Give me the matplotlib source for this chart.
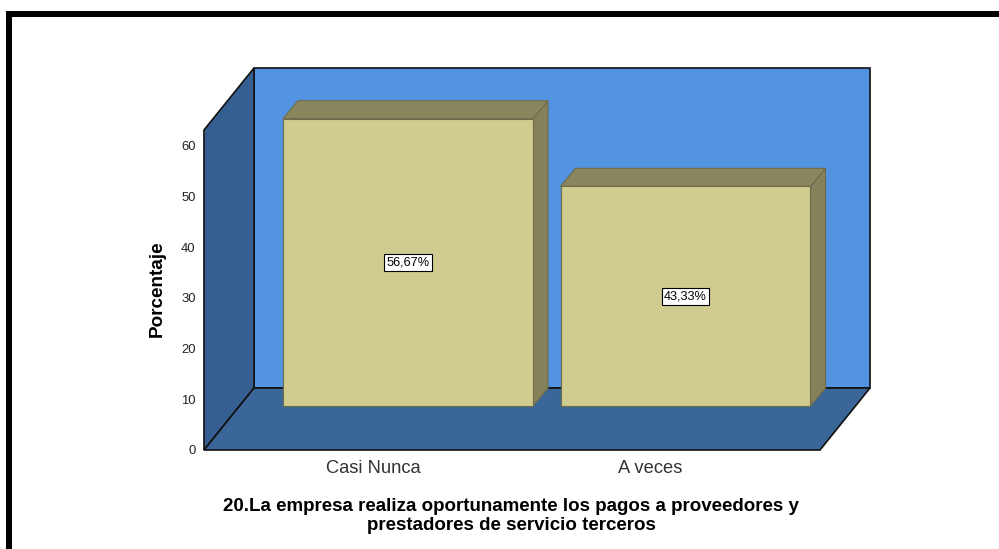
import matplotlib
matplotlib.use("Agg")
import matplotlib.pyplot as plt
from matplotlib.patches import Polygon, Rectangle

plt.rcParams['font.family'] = ['Liberation Sans', 'DejaVu Sans']

categories = ["Casi Nunca", "A veces"]
values = [56.67, 43.33]
value_labels = ["56,67%", "43,33%"]
y_ticks = [0, 10, 20, 30, 40, 50, 60]
x_label = "20.La empresa realiza oportunamente los pagos a proveedores y\nprestadores de servicio terceros"
y_label = "Porcentaje"

W, H = 999, 549
fig = plt.figure(figsize=(W / 100, H / 100), dpi=100, facecolor="white")

# black frame (left and top only are visible in the crop)
fig.add_artist(Rectangle((6 / W, 0), 6 / W, 1 - 11 / H, transform=fig.transFigure, fc="black", ec="none"))
fig.add_artist(Rectangle((6 / W, 1 - 17 / H), 1 - 6 / W, 6 / H, transform=fig.transFigure, fc="black", ec="none"))

# axes: plot box from the front-left corner to the back-right corner
L, R, B, T = 204, 870, 450, 68
ax = fig.add_axes([L / W, 1 - B / H, (R - L) / W, (B - T) / H])
px_per_cat = 277.5
px_per_val = 5.07
x0 = 373
ax.set_xlim((L - x0) / px_per_cat, (R - x0) / px_per_cat)
ax.set_ylim(0, (B - T) / px_per_val)
ax.patch.set_visible(False)
for s in ax.spines.values():
    s.set_visible(False)

xl, xr = ax.get_xlim()
ytop = ax.get_ylim()[1]
dx_back = 50 / px_per_cat
dy_back = 62 / px_per_val
top_front = ytop - dy_back
edge = "#111111"

wall = "#5294E2"
side_wall = "#355F91"
floor = "#3A6698"
bar_front = "#D0CB8E"
bar_top = "#8A865E"
bar_side = "#85815B"
bar_edge = "#6F6C4A"

xr_front = xr - dx_back
ax.add_patch(Rectangle((xl + dx_back, dy_back), xr - xl - dx_back, ytop - dy_back, fc=wall, ec=edge, lw=1.2, clip_on=False, zorder=1))
ax.add_patch(Polygon([(xl, 0), (xl + dx_back, dy_back), (xl + dx_back, ytop), (xl, top_front)], fc=side_wall, ec=edge, lw=1.2, clip_on=False, zorder=2))
ax.add_patch(Polygon([(xl, 0), (xl + dx_back, dy_back), (xr, dy_back), (xr_front, 0)], fc=floor, ec=edge, lw=1.2, clip_on=False, zorder=2))

bar_w = 250 / px_per_cat
base_dx, base_dy = 35 / px_per_cat, 44 / px_per_val
depth_dx, depth_dy = 15 / px_per_cat, 18 / px_per_val

for i, v in enumerate(values):
    x1 = i + base_dx - bar_w / 2
    x2 = x1 + bar_w
    y1 = base_dy
    y2 = base_dy + v
    ax.add_patch(Polygon([(x2, y1), (x2 + depth_dx, y1 + depth_dy), (x2 + depth_dx, y2 + depth_dy), (x2, y2)], fc=bar_side, ec=bar_edge, lw=0.8, zorder=3))
    ax.add_patch(Polygon([(x1, y2), (x1 + depth_dx, y2 + depth_dy), (x2 + depth_dx, y2 + depth_dy), (x2, y2)], fc=bar_top, ec=bar_edge, lw=0.8, zorder=3))
    ax.add_patch(Rectangle((x1, y1), bar_w, y2 - y1, fc=bar_front, ec=bar_edge, lw=0.8, zorder=4))
    ax.text(i + base_dx, (y1 + y2) / 2, value_labels[i], ha="center", va="center",
            fontsize=9.2, color="black", zorder=5,
            bbox=dict(boxstyle="square,pad=0.2", fc="white", ec="black", lw=0.8))

ax.set_xticks(range(len(categories)), categories, fontsize=13.2, color="#333333")
ax.set_yticks(y_ticks, [str(t) for t in y_ticks], fontsize=9.4, color="#222222")
ax.tick_params(axis="both", length=0)
ax.tick_params(axis="x", pad=7.5)
ax.tick_params(axis="y", pad=6)

fig.text(511 / W, 1 - 516 / H, x_label, ha="center", va="center", fontsize=13.5, fontweight="bold", color="black", linespacing=1.1)
fig.text(157 / W, 1 - 288.5 / H, y_label, ha="center", va="center", rotation=90, fontsize=13.6, fontweight="bold", color="black")

fig.savefig("out.png", dpi=100)
